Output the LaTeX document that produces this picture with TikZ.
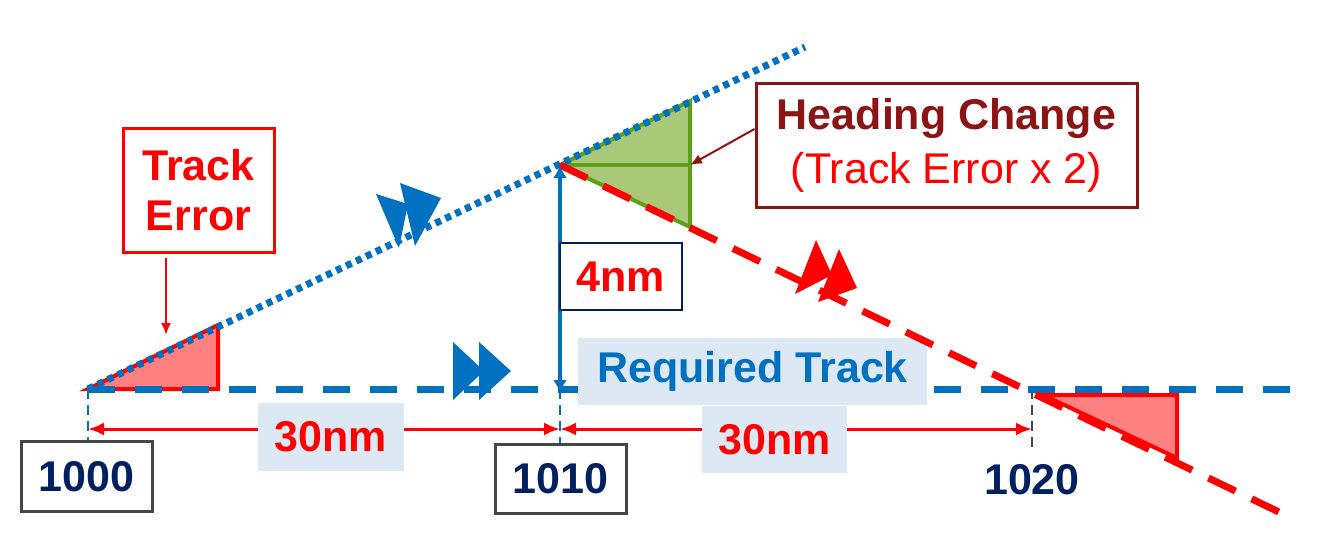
\documentclass[tikz,border=0pt]{standalone}
\usepackage{fontspec}
\setmainfont{Liberation Sans}
\usetikzlibrary{arrows.meta}

\definecolor{trackblue}{RGB}{0,112,192}
\definecolor{navy}{RGB}{0,32,96}
\definecolor{darkred}{RGB}{140,20,20}
\definecolor{paleblue}{RGB}{221,232,245}
\definecolor{errfill}{RGB}{255,128,128}
\definecolor{hdgfill}{RGB}{169,201,120}
\definecolor{hdgline}{RGB}{96,160,24}
\definecolor{boxgrey}{RGB}{70,70,70}

\tikzset{
  big/.style={font=\fontsize{43}{50}\selectfont\bfseries},
  shaded/.style={fill=paleblue, inner sep=0pt, big},
  wpt/.style={draw=boxgrey, line width=3pt, fill=white, inner sep=0pt, text=navy, big},
  dim/.style={red, line width=3pt, {Latex[length=16pt,width=13pt]}-{Latex[length=16pt,width=13pt]}},
  tickline/.style={line width=2.5pt, dash pattern=on 10pt off 6pt},
}

\begin{document}
\begin{tikzpicture}[x=1pt,y=-1pt]
  \useasboundingbox (0,0) rectangle (1334,551);
  % key points of the tracks
  \coordinate (A) at (88,389);
  \coordinate (B) at (560,165);
  \coordinate (C) at (1032,389);
  \coordinate (D) at (805,47);
  \coordinate (E) at (1283,514);
  \coordinate (F) at (1295,389);
  \coordinate (foot) at (560,389);

  % error triangles
  \filldraw[fill=errfill, draw=red, line width=4pt, line join=miter] (A) -- (218,325) -- (218,389) -- cycle;
  \filldraw[fill=hdgfill, draw=hdgline, line width=4pt] (B) -- (690,101) -- (690,227) -- cycle;
  \draw[hdgline, line width=4pt] (B) -- (690,165);
  \filldraw[fill=errfill, draw=red, line width=4pt, line join=miter] (1043,395) -- (1177,395) -- (1177,458) -- cycle;

  % station ticks and distances
  \draw[tickline, trackblue] (A) -- (88,448);
  \draw[tickline, trackblue] (foot) -- (560,448);
  \draw[tickline, boxgrey] (C) -- (1032,448);
  \draw[dim] (88,429) -- (560,429);
  \draw[dim] (560,429) -- (1032,429);
  \node[shaded, text=red, minimum width=146pt, minimum height=68pt] (d1) at (331,437) {30nm};
  \node[shaded, text=red, minimum width=145pt, minimum height=67pt] (d2) at (774.5,439.5) {30nm};

  % required track and flown tracks
  \draw[trackblue, line width=7pt, dash pattern=on 27pt off 20pt] (A) -- (F);
  \node[shaded, text=trackblue, minimum width=349pt, minimum height=67pt] (req) at (752.5,371.5) {Required Track};
  \draw[trackblue, line width=7pt, dash pattern=on 6pt off 5pt] (A) -- (D);
  \draw[red, line width=7pt, dash pattern=on 30pt off 18pt] (B) -- (E);
  \draw[trackblue, line width=4pt, {Latex[length=13pt,width=14pt]}-{Latex[length=13pt,width=14pt]}] (B) -- ([yshift=-4pt]foot);

  % labels
  \node[draw=navy, line width=1.5pt, fill=white, text=red, big, inner sep=0pt, minimum width=122pt, minimum height=67pt] (off) at (621,276.5) {4nm};
  \node[wpt, minimum width=131pt, minimum height=70pt] (w1) at (86.5,476.5) {1000};
  \node[wpt, minimum width=131pt, minimum height=69pt] (w2) at (560.5,478.5) {1010};
  \node[text=navy, big] (w3) at (1032,480) {1020};
  \node[draw=red, line width=3pt, text=red, big, align=center, inner sep=0pt, minimum width=151pt, minimum height=124pt] (te) at (198.5,190) {Track\\Error};
  \node[draw=darkred, line width=3pt, align=center, inner sep=0pt, minimum width=381pt, minimum height=123pt, font=\fontsize{43}{54}\selectfont] (hc) at (946.5,145.5) {\textcolor{darkred}{\bfseries Heading Change}\\\textcolor{red}{(Track Error x 2)}};

  % callouts
  \coordinate (teTip) at (166,335);
  \draw[red, line width=2pt, -{Latex[length=12pt,width=10pt]}] (166,258) -- (teTip);
  \coordinate (hcTip) at (690,165);
  \draw[darkred, line width=2pt, -{Latex[length=12pt,width=10pt]}] (hc.west |- 0,129) -- (hcTip);

  % direction marks
  \fill[trackblue] (453,342) -- (484,371) -- (453,400) -- cycle;
  \fill[trackblue] (479,342) -- (511,371) -- (479,400) -- cycle;
  \fill[trackblue] (376,194) -- (408,204) -- (399,248) -- cycle;
  \fill[trackblue] (400,183) -- (441,198) -- (415,246) -- cycle;
  \fill[red] (816,240) -- (795,294) -- (832,275) -- cycle;
  \fill[red] (839,249) -- (818,302) -- (857,288) -- cycle;
\end{tikzpicture}
\end{document}
